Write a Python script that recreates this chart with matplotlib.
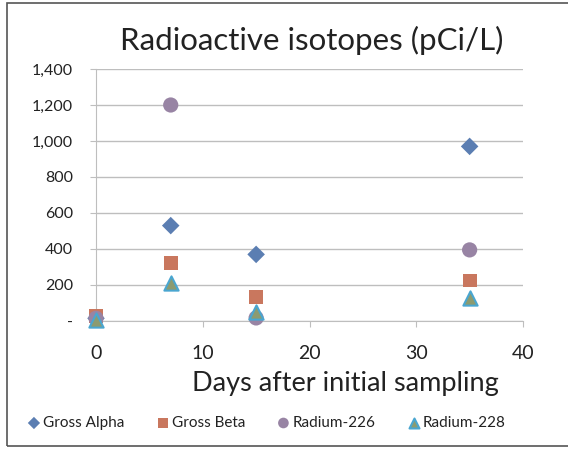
import matplotlib
matplotlib.use("Agg")
import matplotlib.pyplot as plt
from matplotlib.ticker import FuncFormatter
from matplotlib.patches import Rectangle

days = [0, 7, 15, 35]
gross_alpha = [15, 530, 370, 970]
gross_beta = [30, 320, 135, 225]
radium_226 = [15, 1200, 17, 395]
radium_228 = [5, 212, 50, 130]

title = "Radioactive isotopes (pCi/L)"
xlabel = "Days after initial sampling"
series_names = ["Gross Alpha", "Gross Beta", "Radium-226", "Radium-228"]

plt.rcParams['font.family'] = ['Lato', 'DejaVu Sans']

W, H = 568, 450
fig = plt.figure(figsize=(W / 100, H / 100), dpi=100)
ax = fig.add_axes([96 / W, (H - 321) / H, (523 - 96) / W, (321 - 69) / H])

grid_c = '#BEBEBE'
ax.scatter(days, gross_alpha, marker='D', s=80, color='#5B7EB2', edgecolors='none', label=series_names[0], zorder=3, clip_on=False)
ax.scatter(days, gross_beta, marker='s', s=100, color='#C9775E', edgecolors='none', label=series_names[1], zorder=3, clip_on=False)
ax.scatter(days, radium_226, marker='o', s=120, color='#9884A4', edgecolors='none', label=series_names[2], zorder=3, clip_on=False)
ax.scatter(days, radium_228, marker='^', s=105, color='#8C9B70', edgecolors='#4AA6D0', linewidths=1.5, label=series_names[3], zorder=3, clip_on=False)

ax.set_xlim(0, 40)
ax.set_ylim(0, 1400)
ax.set_xticks([0, 10, 20, 30, 40])
ax.set_yticks(range(0, 1401, 200))
ax.yaxis.set_major_formatter(FuncFormatter(lambda v, p: '-' if v == 0 else f"{int(v):,}"))
ax.yaxis.grid(True, color=grid_c, linewidth=1)
ax.set_axisbelow(True)
for s in ['top', 'right']:
    ax.spines[s].set_visible(False)
ax.spines['left'].set_color(grid_c)
ax.spines['bottom'].set_color(grid_c)
ax.tick_params(axis='y', colors=grid_c, labelcolor='#222222', labelsize=11.5, length=4.5, pad=12)
ax.tick_params(axis='x', colors=grid_c, labelcolor='#222222', labelsize=14, length=4.5, pad=13)
for t in ax.get_yticklabels():
    t.set_horizontalalignment('right')

fig.text(312 / W, 1 - 40 / H, title, ha='center', va='center', fontsize=22.5, color='#222222')
fig.text(345 / W, 1 - 383 / H, xlabel, ha='center', va='center', fontsize=19.5, color='#222222')

leg = fig.legend(loc='center', bbox_to_anchor=(266 / W, 1 - 423 / H), ncol=4, frameon=False,
                 fontsize=11, handletextpad=0.1, columnspacing=2.0, markerscale=0.7,
                 handlelength=1.0, borderaxespad=0)
for t in leg.get_texts():
    t.set_color('#222222')

fig.patches.append(Rectangle((7 / W, 4 / H), 1.2, 1 - 7 / H, transform=fig.transFigure,
                             fill=False, edgecolor='#555555', linewidth=1.2))

fig.savefig('out.png', dpi=100)
